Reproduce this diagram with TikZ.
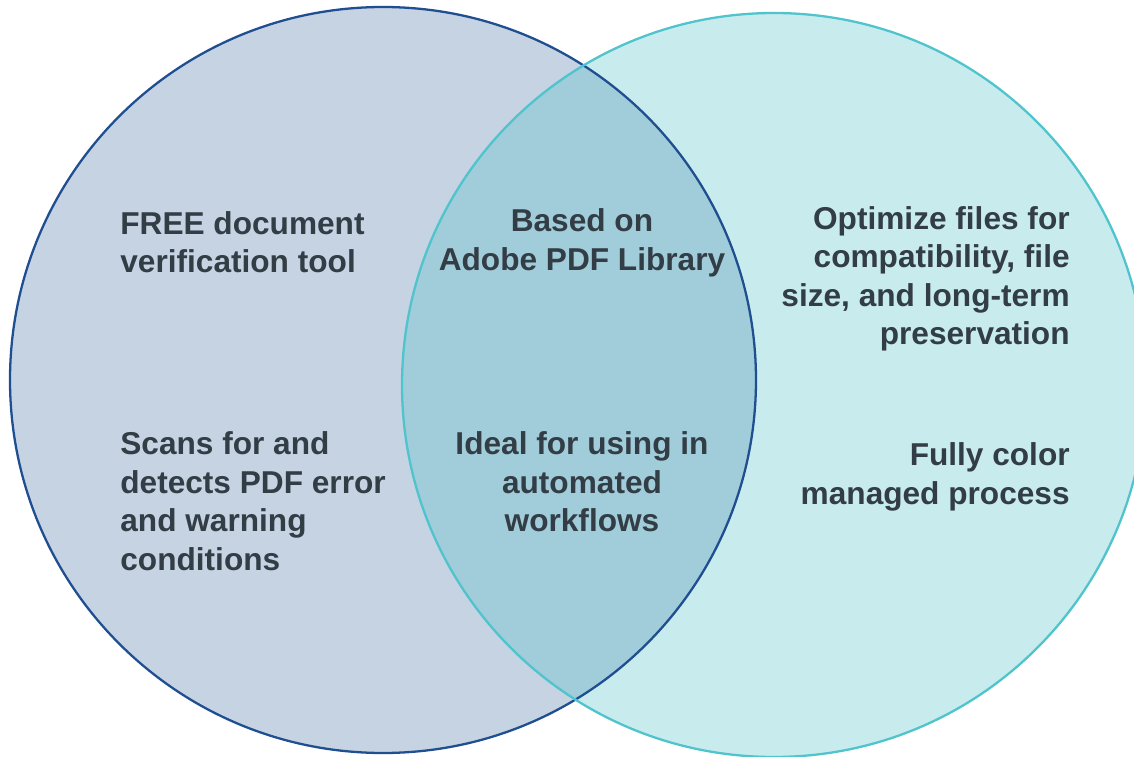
\documentclass[tikz,border=0pt]{standalone}
\usepackage{fontspec}
\setmainfont{Liberation Sans}
\usepackage{xcolor}
\definecolor{leftfill}{HTML}{C5D3E3}
\definecolor{leftstroke}{HTML}{1F4E91}
\definecolor{rightfill}{HTML}{C8ECEE}
\definecolor{rightstroke}{HTML}{4FC4CC}
\definecolor{overlap}{HTML}{A1CCD9}
\definecolor{txt}{HTML}{323D46}

\begin{document}
\begin{tikzpicture}[
  x=0.02cm, y=-0.02cm,
  font=\bfseries\fontsize{18}{21.9}\selectfont,
  item/.style={
    inner sep=0pt,
    text=txt
  },
  leftitem/.style={item, anchor=west, align=left},
  midjob/.style={item, anchor=center, align=center},
  rightitem/.style={item, anchor=east, align=right},
  ring/.style={line width=1.3pt}
]
  \useasboundingbox (0,0) rectangle (1134,757);
  \clip (0,0) rectangle (1134,757);

  % Circles
  \fill[leftfill] (383,380) circle[radius=373];
  \fill[rightfill] (774,385) circle[radius=372];
  \begin{scope}
    \clip (383,380) circle[radius=373];
    \fill[overlap] (774,385) circle[radius=372];
  \end{scope}
  \draw[ring, draw=leftstroke] (383,380) circle[radius=373];
  \draw[ring, draw=rightstroke] (774,385) circle[radius=372];

  % Left side
  \node[leftitem] (free) at (120,242) {FREE document\\verification tool};
  \node[leftitem] (scans) at (120,501) {Scans for and\\detects PDF error\\and warning\\conditions};

  % Overlap
  \node[midjob] (based) at (582,243) {Based on\\Adobe PDF Library};
  \node[midjob] (ideal) at (582,482) {Ideal for using in\\automated\\workflows};

  % Right side
  \node[rightitem] (optimize) at (1070,279) {Optimize files for\\compatibility, file\\size, and long-term\\preservation};
  \node[rightitem] (fully) at (1070,477) {Fully color\\managed process};
\end{tikzpicture}
\end{document}
